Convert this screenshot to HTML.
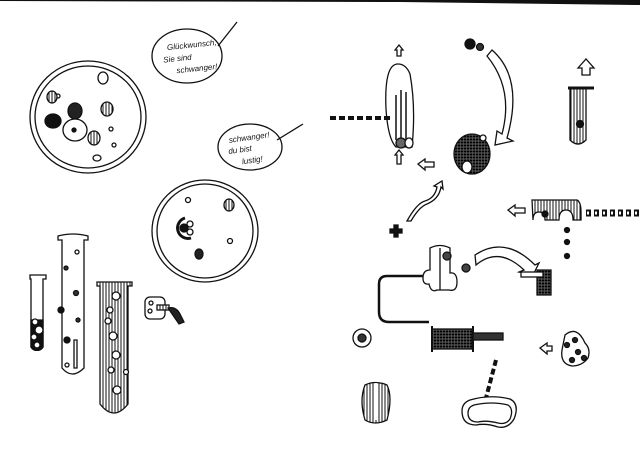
<!DOCTYPE html>
<html><head><meta charset="utf-8"><style>
html,body{margin:0;padding:0;background:#fff;width:640px;height:470px;overflow:hidden}
svg{display:block}
text{font-family:"Liberation Sans",sans-serif;font-style:italic;font-size:8px;fill:#111}
</style></head><body>
<svg width="640" height="470" viewBox="0 0 640 470" xmlns="http://www.w3.org/2000/svg">
<defs>
<pattern id="v" width="3" height="3" patternUnits="userSpaceOnUse"><rect width="3" height="3" fill="#fff"/><line x1="1" y1="0" x2="1" y2="3" stroke="#111" stroke-width="1"/></pattern>
<pattern id="x" width="3" height="3" patternUnits="userSpaceOnUse"><rect width="3" height="3" fill="#333"/><line x1="0" y1="1.5" x2="3" y2="1.5" stroke="#000" stroke-width="1"/><line x1="1.5" y1="0" x2="1.5" y2="3" stroke="#666" stroke-width="0.6"/></pattern>
</defs>
<rect width="640" height="470" fill="#fff"/>
<polygon points="0,0 640,0 640,5 400,2 0,1" fill="#111"/>
<g fill="none" stroke="#111" stroke-width="1.3">
<ellipse cx="88" cy="117" rx="58" ry="56"/>
<ellipse cx="88" cy="117" rx="53" ry="51"/>
<circle cx="58" cy="96" r="2"/><ellipse cx="103" cy="78" rx="5" ry="6"/>
<ellipse cx="52" cy="97" rx="5" ry="6" fill="url(#v)"/>
<ellipse cx="107" cy="109" rx="6" ry="7" fill="url(#v)"/>
<ellipse cx="53" cy="121" rx="8" ry="7" fill="#111"/>
<ellipse cx="75" cy="111" rx="7" ry="8" fill="#222"/>
<ellipse cx="75" cy="130" rx="12" ry="11" fill="#fff"/><circle cx="74" cy="130" r="2" fill="#111"/>
<ellipse cx="94" cy="138" rx="6" ry="7" fill="url(#v)"/>
<circle cx="111" cy="129" r="2"/><circle cx="114" cy="145" r="2"/><ellipse cx="97" cy="158" rx="4" ry="3"/>
<ellipse cx="187" cy="56" rx="35" ry="27"/><line x1="218" y1="46" x2="237" y2="22"/>
<ellipse cx="250" cy="147" rx="32" ry="23"/><line x1="277" y1="140" x2="303" y2="124"/>
<ellipse cx="205" cy="231" rx="53" ry="51"/><ellipse cx="205" cy="231" rx="48" ry="47"/>
<circle cx="188" cy="200" r="2.5"/><ellipse cx="229" cy="205" rx="5" ry="6" fill="url(#v)"/>
<path d="M185 218 a9 9 0 0 0 6 20" stroke-width="3"/><circle cx="184" cy="228" r="4" fill="#111"/>
<circle cx="190" cy="224" r="3"/><circle cx="190" cy="232" r="3"/>
<circle cx="230" cy="241" r="2.5"/><ellipse cx="199" cy="254" rx="4" ry="5" fill="#222"/>
<path d="M30 275 h16 v4 h-3 v68 a7 7 0 0 1 -12 0 v-68 h-1z" fill="#fff"/>
<path d="M31 320 h12 v27 a7 7 0 0 1 -12 0z" fill="#111"/>
<circle cx="35" cy="322" r="3" fill="#fff"/><circle cx="39" cy="330" r="4" fill="#fff"/><circle cx="34" cy="337" r="3" fill="#fff"/><circle cx="37" cy="345" r="3" fill="#fff"/>
<path d="M58 236 q15 -4 30 0 v4 h-4 v128 q-12 12 -22 0 v-128 h-4z" fill="#fff"/>
<circle cx="77" cy="252" r="2"/><circle cx="66" cy="268" r="2" fill="#333"/><circle cx="76" cy="293" r="2.5" fill="#333"/>
<circle cx="61" cy="310" r="3" fill="#111"/><circle cx="78" cy="320" r="2" fill="#333"/><circle cx="67" cy="340" r="3" fill="#111"/>
<path d="M74 340 v28 h3 v-28z"/><circle cx="67" cy="365" r="2"/>
<path d="M97 282 h35 v4 h-4 v118 q-14 18 -28 0 v-118 h-3z" fill="url(#v)"/>
<circle cx="116" cy="296" r="4" fill="#fff"/><circle cx="110" cy="310" r="3" fill="#fff"/><circle cx="108" cy="321" r="3" fill="#fff"/>
<circle cx="113" cy="336" r="4" fill="#fff"/><circle cx="116" cy="355" r="4" fill="#fff"/><circle cx="111" cy="370" r="3" fill="#fff"/><circle cx="126" cy="372" r="2.5" fill="#fff"/><circle cx="117" cy="390" r="4" fill="#fff"/>
<rect x="145" y="297" width="20" height="22" rx="5" fill="#fff"/><circle cx="151" cy="303" r="2"/><circle cx="150" cy="311" r="2"/>
<rect x="157" y="305" width="12" height="5" fill="url(#v)"/><path d="M168 308 q8 -2 12 6 l4 8 l-5 2z" fill="#222"/>
<!-- RIGHT -->
<path d="M395 50 l4 -5 l4 5 h-2 v6 h-4 v-6z" fill="#fff"/>
<path d="M398 64 q-14 0 -12 45 q2 30 10 38 h16 q4 -40 -2 -73 q-4 -10 -12 -10z" fill="#fff"/>
<path d="M396 95 v45 M401 90 v50 M406 92 v48" stroke-width="1.5"/>
<ellipse cx="401" cy="143" rx="5" ry="5" fill="#666"/><ellipse cx="409" cy="143" rx="4" ry="5" fill="#fff"/>
<path d="M330 118 h60" stroke-width="4" stroke-dasharray="6 3"/>
<path d="M395 155 l4 -5 l4 5 h-2 v9 h-4 v-9z" fill="#fff"/><path d="M418 164 l7 -5 v3 h9 v5 h-9 v3z" fill="#fff"/>
<ellipse cx="470" cy="44" rx="5" ry="5" fill="#111"/><circle cx="480" cy="47" r="3.5" fill="#333"/>
<path d="M492 50 q32 28 15 88 l6 3 l-18 4 l2 -14 l5 3 q12 -45 -15 -78z" fill="#fff"/>
<ellipse cx="472" cy="154" rx="18" ry="20" fill="url(#x)"/><ellipse cx="467" cy="167" rx="5" ry="6" fill="#fff"/><circle cx="483" cy="138" r="3" fill="#fff"/>
<path d="M407 221 q10 -18 18 -20 q10 -3 12 -14 l-3 -1 l8 -5 l1 8 l-2 -2 q-2 12 -14 17 q-8 3 -16 17z" fill="#fff"/>
<path d="M390 229 h4 v-4 h4 v4 h4 v4 h-4 v4 h-4 v-4 h-4z" fill="#111"/>
<path d="M578 68 l8 -9 l8 9 h-4 v7 h-8 v-7z" fill="#fff"/>
<path d="M570 88 h16 v52 q-8 8 -16 0z" fill="url(#v)"/><line x1="568" y1="88" x2="594" y2="88" stroke-width="3"/>
<circle cx="580" cy="124" r="3.5" fill="#111"/>
<path d="M508 210 l7 -5 v3 h10 v5 h-10 v3z" fill="#fff"/>
<path d="M532 200 h45 q4 2 4 12 v8 h-8 q0 -10 -7 -10 q-7 0 -7 10 h-14 q0 -8 -6 -8 q-6 0 -6 8z" fill="url(#v)"/>
<circle cx="545" cy="214" r="3" fill="#111"/>
<path d="M586 213 h54" stroke-width="7" stroke-dasharray="5 3"/>
<path d="M587 213 h50" stroke="#fff" stroke-width="3" stroke-dasharray="2 6"/>
<circle cx="567" cy="230" r="2.5" fill="#111"/><circle cx="567" cy="242" r="2.5" fill="#111"/><circle cx="567" cy="256" r="2.5" fill="#111"/>
<path d="M475 255 q30 -20 60 10 l4 -2 l-6 12 l-14 -3 l5 -2 q-25 -24 -48 -5z" fill="#fff"/>
<path d="M537 270 h14 v25 h-14z" fill="url(#x)"/><rect x="521" y="272" width="22" height="5" fill="#fff"/>
<path d="M430 248 q10 -5 20 0 v25 q7 -1 7 9 q0 10 -8 8 q-4 0 -12 0 q-6 3 -8 -6 q-6 1 -6 -6 q0 -8 7 -8z" fill="#fff"/>
<line x1="440" y1="248" x2="440" y2="290"/>
<circle cx="447" cy="256" r="4" fill="#444"/><circle cx="466" cy="268" r="4" fill="#444"/>
<path d="M423 276 h-36 q-8 0 -8 8 v28 q0 10 10 10 h40" stroke-width="2.5"/>
<rect x="432" y="329" width="40" height="20" fill="url(#x)"/><line x1="432" y1="326" x2="432" y2="352" stroke-width="2"/><line x1="473" y1="326" x2="473" y2="352" stroke-width="2"/>
<rect x="473" y="333" width="30" height="7" fill="#333"/>
<circle cx="362" cy="338" r="9" fill="#fff"/><circle cx="362" cy="338" r="4" fill="#333"/>
<path d="M540 348 l7 -5 v3 h5 v5 h-5 v3z" fill="#fff"/>
<path d="M565 335 q12 -10 20 8 q6 6 3 15 q-6 8 -16 8 q-12 -2 -10 -16z" fill="#fff"/>
<circle cx="567" cy="345" r="2.5" fill="#222"/><circle cx="575" cy="340" r="2.5" fill="#222"/><circle cx="578" cy="352" r="2.5" fill="#222"/><circle cx="572" cy="360" r="2.5" fill="#222"/><circle cx="584" cy="358" r="2.5" fill="#222"/>
<path d="M496 360 l-10 38" stroke-width="4" stroke-dasharray="6 3"/>
<path d="M470 400 q20 -6 40 -1 q10 5 4 20 q-6 10 -16 8 q-12 -4 -22 -2 q-14 0 -14 -14 q0 -8 8 -11z" fill="#fff"/>
<path d="M474 405 q18 -4 34 0 q6 4 2 14 q-4 6 -12 4 q-12 -3 -20 -1 q-10 0 -10 -9 q0 -6 6 -8z"/>
<path d="M365 385 q10 -5 22 0 q6 12 0 35 q-12 6 -22 0 q-6 -20 0 -35z" fill="url(#v)"/><line x1="376" y1="383" x2="376" y2="420" stroke="#fff" stroke-width="1.5"/>
</g>
<g transform="rotate(-6 188 56)"><text x="168" y="48">Glückwunsch,</text><text x="163" y="60">Sie sind</text><text x="175" y="72">schwanger!</text></g>
<g transform="rotate(-8 250 147)"><text x="230" y="140">schwanger!</text><text x="228" y="151">du bist</text><text x="240" y="163">lustig!</text></g>
</svg>
</body></html>
